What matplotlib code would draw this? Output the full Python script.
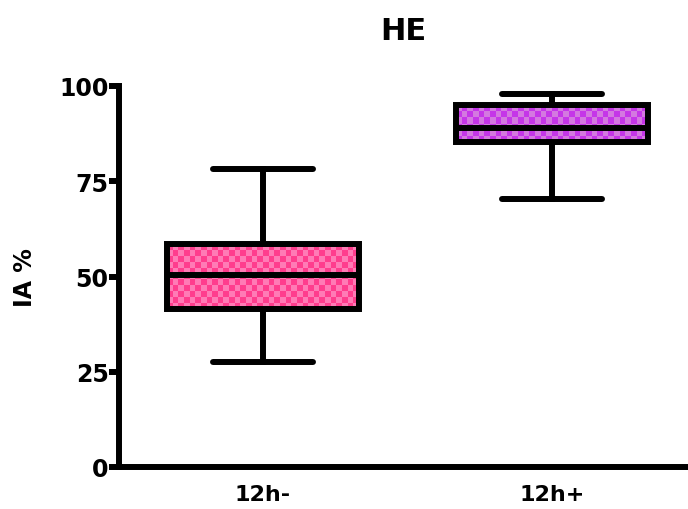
import matplotlib
matplotlib.use('Agg')
import matplotlib.pyplot as plt
import numpy as np

# values
groups = ['12h-', '12h+']
whislo = [27.6, 70.3]
q1 = [41.5, 85.3]
med = [50.4, 89.0]
q3 = [58.5, 95.0]
whishi = [78.2, 97.9]
dark = ['#ff3d8d', '#c535e8']
light = ['#ff7bb5', '#d478e0']

plt.rcParams['font.family'] = ['DejaVu Sans']
plt.rcParams['font.weight'] = 'bold'

fig = plt.figure(figsize=(6.88, 5.10), dpi=100)
ax = fig.add_axes([119/688, 42/510, 569/688, 381/510])

stats = []
for i in range(len(groups)):
    stats.append({'label': groups[i], 'whislo': whislo[i], 'q1': q1[i], 'med': med[i],
                  'q3': q3[i], 'whishi': whishi[i], 'fliers': []})

lw = 4.3
bp = ax.bxp(stats, positions=[1, 2], widths=0.664, capwidths=0.346, patch_artist=True,
            showfliers=False,
            boxprops=dict(linewidth=lw, edgecolor='black'),
            whiskerprops=dict(linewidth=lw, color='black'),
            capprops=dict(linewidth=lw, color='black', solid_capstyle='round'),
            medianprops=dict(linewidth=lw, color='black'))

# checkerboard fill clipped to each box
cell = 5.7
for i, box in enumerate(bp['boxes']):
    box.set_facecolor('none')
    box.set_zorder(3)
    x0, x1 = i + 1 - 0.332, i + 1 + 0.332
    wpx = (x1 - x0) * 289
    hpx = (q3[i] - q1[i]) * 3.81
    nx = max(1, int(round(wpx / cell)))
    ny = max(1, int(round(hpx / cell)))
    yy, xx = np.mgrid[0:ny, 0:nx]
    pat = (xx + yy) % 2
    cmap = matplotlib.colors.ListedColormap([dark[i], light[i]])
    im = ax.imshow(pat, cmap=cmap, extent=[x0, x1, q1[i], q3[i]], aspect='auto',
                   interpolation='nearest', zorder=2, origin='lower')
    im.set_clip_path(box)
for m in bp['medians']:
    m.set_zorder(4)
for art in bp['whiskers'] + bp['caps'] + bp['boxes'] + bp['medians']:
    art.set_clip_on(False)

ax.set_xlim(0.502, 2.47)
ax.set_ylim(0, 100)
ax.set_yticks([0, 25, 50, 75, 100])
ax.set_xticks([1, 2])
ax.set_xticklabels(groups)
ax.spines['top'].set_visible(False)
ax.spines['right'].set_visible(False)
ax.spines['left'].set_linewidth(lw)
ax.spines['bottom'].set_linewidth(lw)
ax.tick_params(axis='y', length=7, width=lw, labelsize=17, pad=0.5)
ax.tick_params(axis='x', length=0, labelsize=16, pad=12)
ax.set_ylabel('IA %', fontsize=17, fontweight='bold', labelpad=16)
ax.set_title('HE', fontsize=22, fontweight='bold', pad=34)

fig.savefig('out.png', dpi=100)
